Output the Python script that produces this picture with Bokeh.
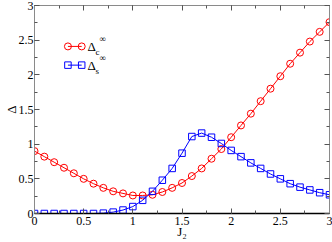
from bokeh.plotting import figure
from bokeh.models import Range1d, LinearAxis, SingleIntervalTicker, Label
from bokeh.embed import file_html
from bokeh.resources import INLINE

# ---- data ----
j2 = [round(0.1 * i, 1) for i in range(31)]
delta_c = [0.90, 0.82, 0.74, 0.66, 0.58, 0.50, 0.43, 0.37, 0.32, 0.29,
           0.26, 0.26, 0.27, 0.31, 0.37, 0.44, 0.54, 0.65, 0.79, 0.93,
           1.10, 1.27, 1.44, 1.62, 1.80, 1.98, 2.16, 2.32, 2.48, 2.62, 2.76]
delta_s = [0.00, 0.00, 0.00, 0.00, 0.00, 0.00, 0.00, 0.005, 0.02, 0.05,
           0.10, 0.19, 0.32, 0.48, 0.65, 0.87, 1.11, 1.16, 1.10, 1.01,
           0.91, 0.82, 0.73, 0.65, 0.57, 0.50, 0.43, 0.38, 0.34, 0.30, 0.27]
x_ticks = [0, 0.5, 1, 1.5, 2, 2.5, 3]
x_tick_labels = ["0", "0.5", "1", "1.5", "2", "2.5", "3"]
y_ticks = [0, 0.5, 1, 1.5, 2, 2.5, 3]
y_tick_labels = ["0", "0.5", "1", "1.5", "2", "2.5", "3"]
series_names = ["c", "s"]

FONT = "Liberation Serif"
RED = "#ff0000"
BLUE = "#0000ff"
GRAY = "#8a8a8a"

p = figure(width=332, height=242, output_backend="svg", toolbar_location=None,
           x_range=Range1d(0, 3), y_range=Range1d(0, 3),
           min_border_left=30, min_border_right=3, min_border_top=5, min_border_bottom=29)
p.xgrid.visible = False
p.ygrid.visible = False
p.outline_line_color = GRAY
p.background_fill_color = "white"
p.border_fill_color = "white"

def style_axis(ax, labels, ticks, show_labels, line_color):
    ax.ticker = SingleIntervalTicker(interval=0.5, num_minor_ticks=2)
    ax.major_tick_in = 5
    ax.major_tick_out = 0
    ax.minor_tick_in = 3
    ax.minor_tick_out = 0
    ax.axis_line_color = line_color
    ax.major_tick_line_color = "#555555"
    ax.minor_tick_line_color = "#555555"
    if show_labels:
        ax.major_label_overrides = {t: l for t, l in zip(ticks, labels)}
        ax.major_label_text_font = FONT
        ax.major_label_text_font_size = "12px"
        ax.major_label_text_color = "black"
        ax.major_label_standoff = 1
        ax.axis_label_text_font = FONT
        ax.axis_label_text_font_size = "13px"
        ax.axis_label_text_font_style = "normal"
        ax.axis_label_text_color = "black"
        ax.axis_label_standoff = -3
    else:
        ax.major_label_text_color = None
        ax.major_label_text_font_size = "1px"
        ax.major_label_standoff = 0

xa = p.xaxis[0]
ya = p.yaxis[0]
style_axis(xa, x_tick_labels, x_ticks, True, "black")
style_axis(ya, y_tick_labels, y_ticks, True, GRAY)
xa.axis_line_width = 1.5
xa.major_label_standoff = 3
xa.axis_label = "J₂"
xa.axis_label_standoff = -4
ya.axis_label = "Δ"
ya.axis_label_standoff = -3

top = LinearAxis()
right = LinearAxis()
style_axis(top, x_tick_labels, x_ticks, False, GRAY)
style_axis(right, y_tick_labels, y_ticks, False, GRAY)
p.add_layout(top, "above")
p.add_layout(right, "right")

# ---- data series ----
p.line(j2, delta_c, line_color=RED, line_width=1)
p.scatter(j2, delta_c, marker="circle", size=7, line_color=RED, fill_color=None, line_width=1)
p.line(j2, delta_s, line_color=BLUE, line_width=1)
p.scatter(j2, delta_s, marker="square", size=6.5, line_color=BLUE, fill_color=None, line_width=1)

# ---- hand-drawn legend (upper left) ----
leg_x0, leg_x1, leg_tx = 0.34, 0.48, 0.54
leg_rows = [(2.41, RED, "circle", 7), (2.14, BLUE, "square", 6.5)]
for (ly, col, mk, sz), name in zip(leg_rows, series_names):
    p.line([leg_x0, leg_x1], [ly, ly], line_color=col, line_width=1)
    p.scatter([leg_x0, leg_x1], [ly, ly], marker=mk, size=sz, line_color=col,
              fill_color=None, line_width=1)
    p.add_layout(Label(x=leg_tx, y=ly, text="Δ", text_font=FONT, text_font_size="13px",
                       text_baseline="middle", text_color="black"))
    p.add_layout(Label(x=leg_tx, y=ly, x_offset=8, y_offset=-6, text=name, text_font=FONT,
                       text_font_size="9px", text_baseline="middle", text_color="black"))
    p.add_layout(Label(x=leg_tx, y=ly, x_offset=12, y_offset=7, text="∞", text_font=FONT,
                       text_font_size="9px", text_baseline="middle", text_color="black"))

open("out.html", "w").write(file_html(p, INLINE))
